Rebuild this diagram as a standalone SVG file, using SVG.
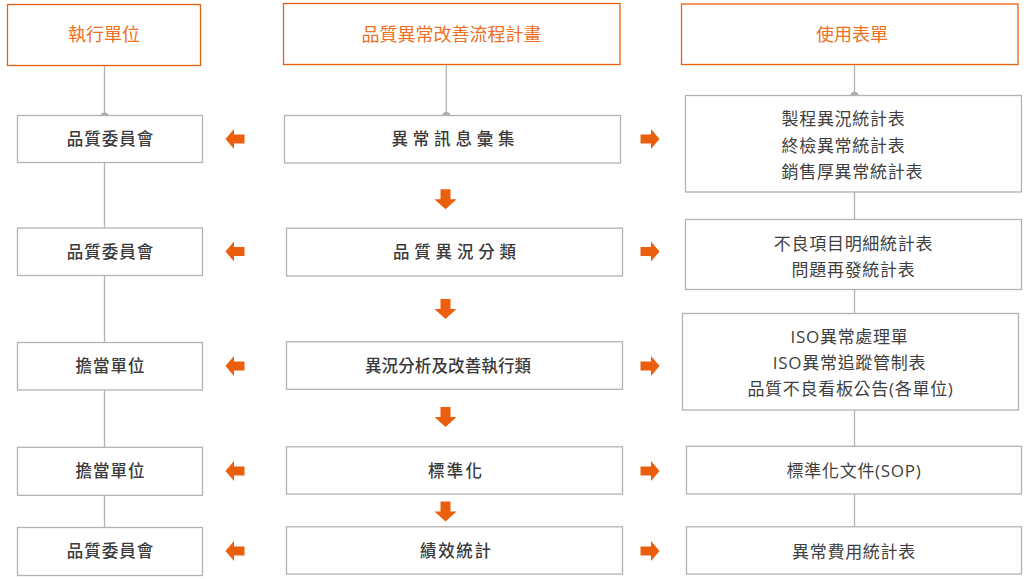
<svg xmlns="http://www.w3.org/2000/svg" width="1027" height="579" viewBox="0 0 1027 579">
<style>
.hdr{fill:#fff;stroke:#E8600E;stroke-width:1.3}
.box{fill:#fff;stroke:#b3b3b3;stroke-width:1.3}
.ln{stroke:#b3b3b3;stroke-width:1.3;fill:none}
.dot{fill:#adadad}
.arr{fill:#EB5F0C}
.ht{font-family:"Noto Sans CJK TC","Noto Sans CJK SC",sans-serif;font-size:18px;fill:#EE7022;text-anchor:middle}
.lt{font-family:"Noto Sans CJK TC","Noto Sans CJK SC",sans-serif;font-size:16.5px;font-weight:500;fill:#3a3a3a;text-anchor:middle;letter-spacing:1px}
.mt{font-family:"Noto Sans CJK TC","Noto Sans CJK SC",sans-serif;font-size:16.5px;font-weight:500;fill:#3a3a3a;text-anchor:middle}
.rt{font-family:"Open Sans","Noto Sans CJK TC","Noto Sans CJK SC",sans-serif;font-size:17px;fill:#3f3f3f;text-anchor:middle;letter-spacing:0.7px}
</style>
<defs>
<path id="aL" d="M-9.5,0 L-1,-10 L-1,-4.5 L9.5,-4.5 L9.5,4.5 L-1,4.5 L-1,10 Z"/>
<path id="aR" d="M9.5,0 L1,-10 L1,-4.5 L-9.5,-4.5 L-9.5,4.5 L1,4.5 L1,10 Z"/>
<path id="aD" d="M-5,-10 L5,-10 L5,0 L11,0 L0,10 L-11,0 L-5,0 Z"/>
</defs>
<g id="connectors">
<line class="ln" x1="104.5" y1="65.5" x2="104.5" y2="527"/>
<line class="ln" x1="446.3" y1="64.5" x2="446.3" y2="116"/>
<line class="ln" x1="854.5" y1="64.5" x2="854.5" y2="527"/>
<circle class="dot" cx="104.5" cy="116.5" r="4"/>
<circle class="dot" cx="446.3" cy="116" r="4"/>
<circle class="dot" cx="854.5" cy="95.8" r="4"/>
<use href="#aL" class="arr" x="235" y="139"/>
<use href="#aL" class="arr" x="235" y="251.5"/>
<use href="#aL" class="arr" x="235" y="366"/>
<use href="#aL" class="arr" x="235" y="471"/>
<use href="#aL" class="arr" x="235" y="551"/>
<use href="#aR" class="arr" x="650" y="139"/>
<use href="#aR" class="arr" x="650" y="251.5"/>
<use href="#aR" class="arr" x="650" y="366"/>
<use href="#aR" class="arr" x="650" y="471"/>
<use href="#aR" class="arr" x="650" y="551"/>
<use href="#aD" class="arr" x="445.5" y="199.3"/>
<use href="#aD" class="arr" x="445.5" y="309"/>
<use href="#aD" class="arr" x="445.5" y="417"/>
<use href="#aD" class="arr" x="445.5" y="511.5"/>
</g>
<g id="h1"><rect class="hdr" x="7.5" y="4.5" width="193" height="61"/><text class="ht" x="104" y="41">執行單位</text></g>
<g id="h2"><rect class="hdr" x="283.5" y="3.5" width="336.5" height="61"/><text class="ht" x="451.5" y="41">品質異常改善流程計畫</text></g>
<g id="h3"><rect class="hdr" x="681.5" y="4" width="336.5" height="60.5"/><text class="ht" x="852" y="41">使用表單</text></g>

<g id="l1"><rect class="box" x="17.5" y="115.5" width="185" height="47"/><text class="lt" x="110.5" y="145">品質委員會</text></g>
<g id="l2"><rect class="box" x="17.5" y="228" width="185" height="47.5"/><text class="lt" x="110.5" y="257.5">品質委員會</text></g>
<g id="l3"><rect class="box" x="17.5" y="342.5" width="185" height="47.5"/><text class="lt" x="110.5" y="372">擔當單位</text></g>
<g id="l4"><rect class="box" x="17.5" y="447.3" width="185" height="48"/><text class="lt" x="110.5" y="477">擔當單位</text></g>
<g id="l5"><rect class="box" x="17.5" y="527.5" width="185" height="48"/><text class="lt" x="110.5" y="557">品質委員會</text></g>

<g id="m1"><rect class="box" x="284.5" y="115.5" width="336" height="47.5"/><text class="mt" x="453" y="145" textLength="123" lengthAdjust="spacing">異常訊息彙集</text></g>
<g id="m2"><rect class="box" x="286.5" y="228.2" width="336" height="47.8"/><text class="mt" x="454.5" y="258" textLength="123" lengthAdjust="spacing">品質異況分類</text></g>
<g id="m3"><rect class="box" x="286.5" y="341.8" width="336" height="47.5"/><text class="mt" x="448" y="372" textLength="166" lengthAdjust="spacing">異況分析及改善執行類</text></g>
<g id="m4"><rect class="box" x="286.5" y="446.8" width="336" height="47.3"/><text class="mt" x="455" y="477" textLength="54" lengthAdjust="spacing">標準化</text></g>
<g id="m5"><rect class="box" x="286.5" y="526.8" width="336" height="47.3"/><text class="mt" x="455.5" y="557" textLength="71" lengthAdjust="spacing">績效統計</text></g>

<g id="r1"><rect class="box" x="685.5" y="95.5" width="336" height="96.5"/>
<text class="rt" style="text-anchor:start" x="781.5" y="125">製程異況統計表</text>
<text class="rt" style="text-anchor:start" x="781.5" y="151.5">終檢異常統計表</text>
<text class="rt" style="text-anchor:start" x="781.5" y="178">銷售厚異常統計表</text></g>
<g id="r2"><rect class="box" x="685.5" y="219.5" width="336" height="70"/>
<text class="rt" x="853.5" y="250">不良項目明細統計表</text>
<text class="rt" x="853.5" y="276">問題再發統計表</text></g>
<g id="r3"><rect class="box" x="682.5" y="313.5" width="336" height="96.5"/>
<text class="rt" x="849.5" y="342.5">ISO異常處理單</text>
<text class="rt" x="849.5" y="368.5">ISO異常追蹤管制表</text>
<text class="rt" x="850.5" y="394.5">品質不良看板公告(各單位)</text></g>
<g id="r4"><rect class="box" x="686.5" y="446.3" width="335" height="47.7"/>
<text class="rt" x="854" y="477">標準化文件(SOP)</text></g>
<g id="r5"><rect class="box" x="686.5" y="526.8" width="335" height="47.3"/>
<text class="rt" x="854" y="558">異常費用統計表</text></g>
</svg>
